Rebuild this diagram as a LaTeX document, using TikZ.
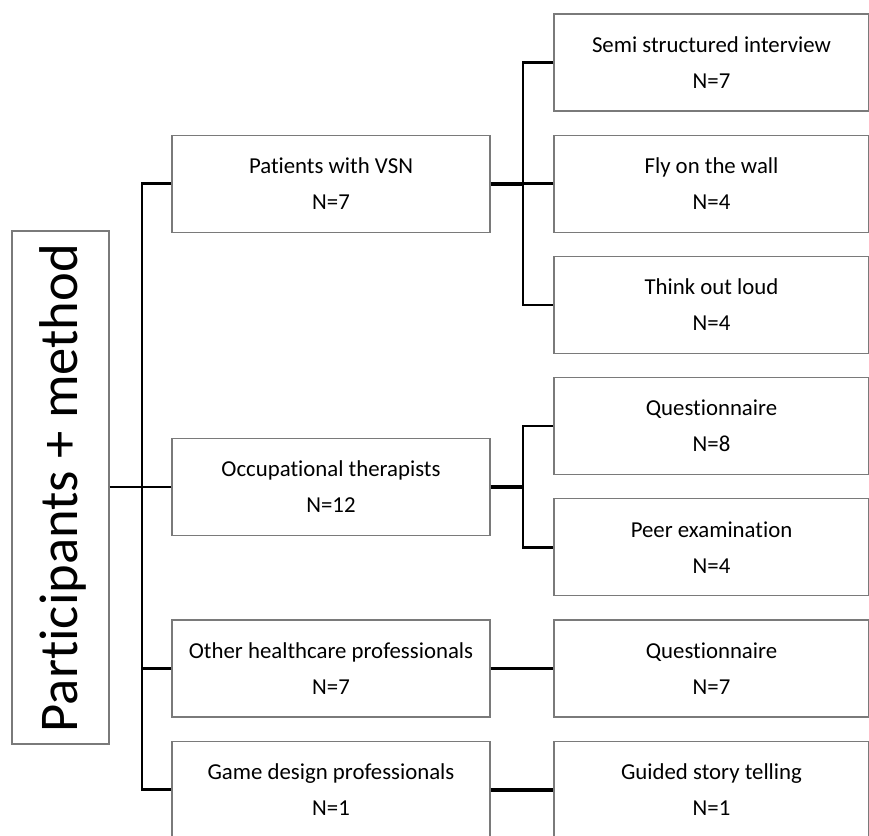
\documentclass[tikz,border=0pt]{standalone}
\usepackage{fontspec}
\setmainfont{Carlito}[Ligatures=NoCommon]
\begin{document}
\begin{tikzpicture}[x=1pt,y=-1pt,
  box/.style={draw=black!52,line width=1.3pt,fill=white,minimum height=97pt,inner sep=0pt,align=center,font=\fontsize{22.8}{36}\selectfont},
  lbox/.style={box,minimum width=318pt},
  rbox/.style={box,minimum width=315pt},
  tree/.style={line width=2.6pt,black},
  link/.style={line width=3.6pt,black}]
\useasboundingbox[fill=white] (0,0) rectangle (869,835);
% root
\node[draw=black!52,line width=1.3pt,minimum width=97pt,minimum height=513pt,inner sep=0pt] (root) at (60.5,487.5) {};
\node[rotate=90,anchor=base,inner sep=0pt,font=\fontsize{54.6}{60}\selectfont] (roottext) at (77,488) {Participants + method};
% left column
\node[lbox] (p1) at (331,183.7) {Patients with VSN\\N=7};
\node[lbox] (p2) at (331,487) {Occupational therapists\\N=12};
\node[lbox] (p3) at (331,668.5) {Other healthcare professionals\\N=7};
\node[lbox] (p4) at (331,789.7) {Game design professionals\\N=1};
% right column
\node[rbox] (m1) at (711.5,62.5) {Semi structured interview\\N=7};
\node[rbox] (m2) at (711.5,183.7) {Fly on the wall\\N=4};
\node[rbox] (m3) at (711.5,304.9) {Think out loud\\N=4};
\node[rbox] (m4) at (711.5,426.1) {Questionnaire\\N=8};
\node[rbox] (m5) at (711.5,547.3) {Peer examination\\N=4};
\node[rbox] (m6) at (711.5,668.5) {Questionnaire\\N=7};
\node[rbox] (m7) at (711.5,789.7) {Guided story telling\\N=1};
% junctions
\coordinate (j1) at (142,487);
\coordinate (j2) at (523,183.7);
\coordinate (j3) at (523,487);
% connectors
\draw[tree] (root.east |- j1) -- (j1);
\draw[tree] (p1.west) -| (j1) |- (p4.west);
\draw[tree] (p2.west) -- (j1);
\draw[tree] (p3.west) -- (p3.west -| j1);
\draw[link] (p1.east) -- (j2);
\draw[tree] (m1.west) -| (j2) |- (m3.west);
\draw[tree] (m2.west) -- (j2);
\draw[link] (p2.east) -- (j3);
\draw[tree] (m4.west) -| (j3) |- (m5.west);
\draw[link] (p3.east) -- (m6.west);
\draw[link] (p4.east) -- (m7.west);
\end{tikzpicture}
\end{document}
